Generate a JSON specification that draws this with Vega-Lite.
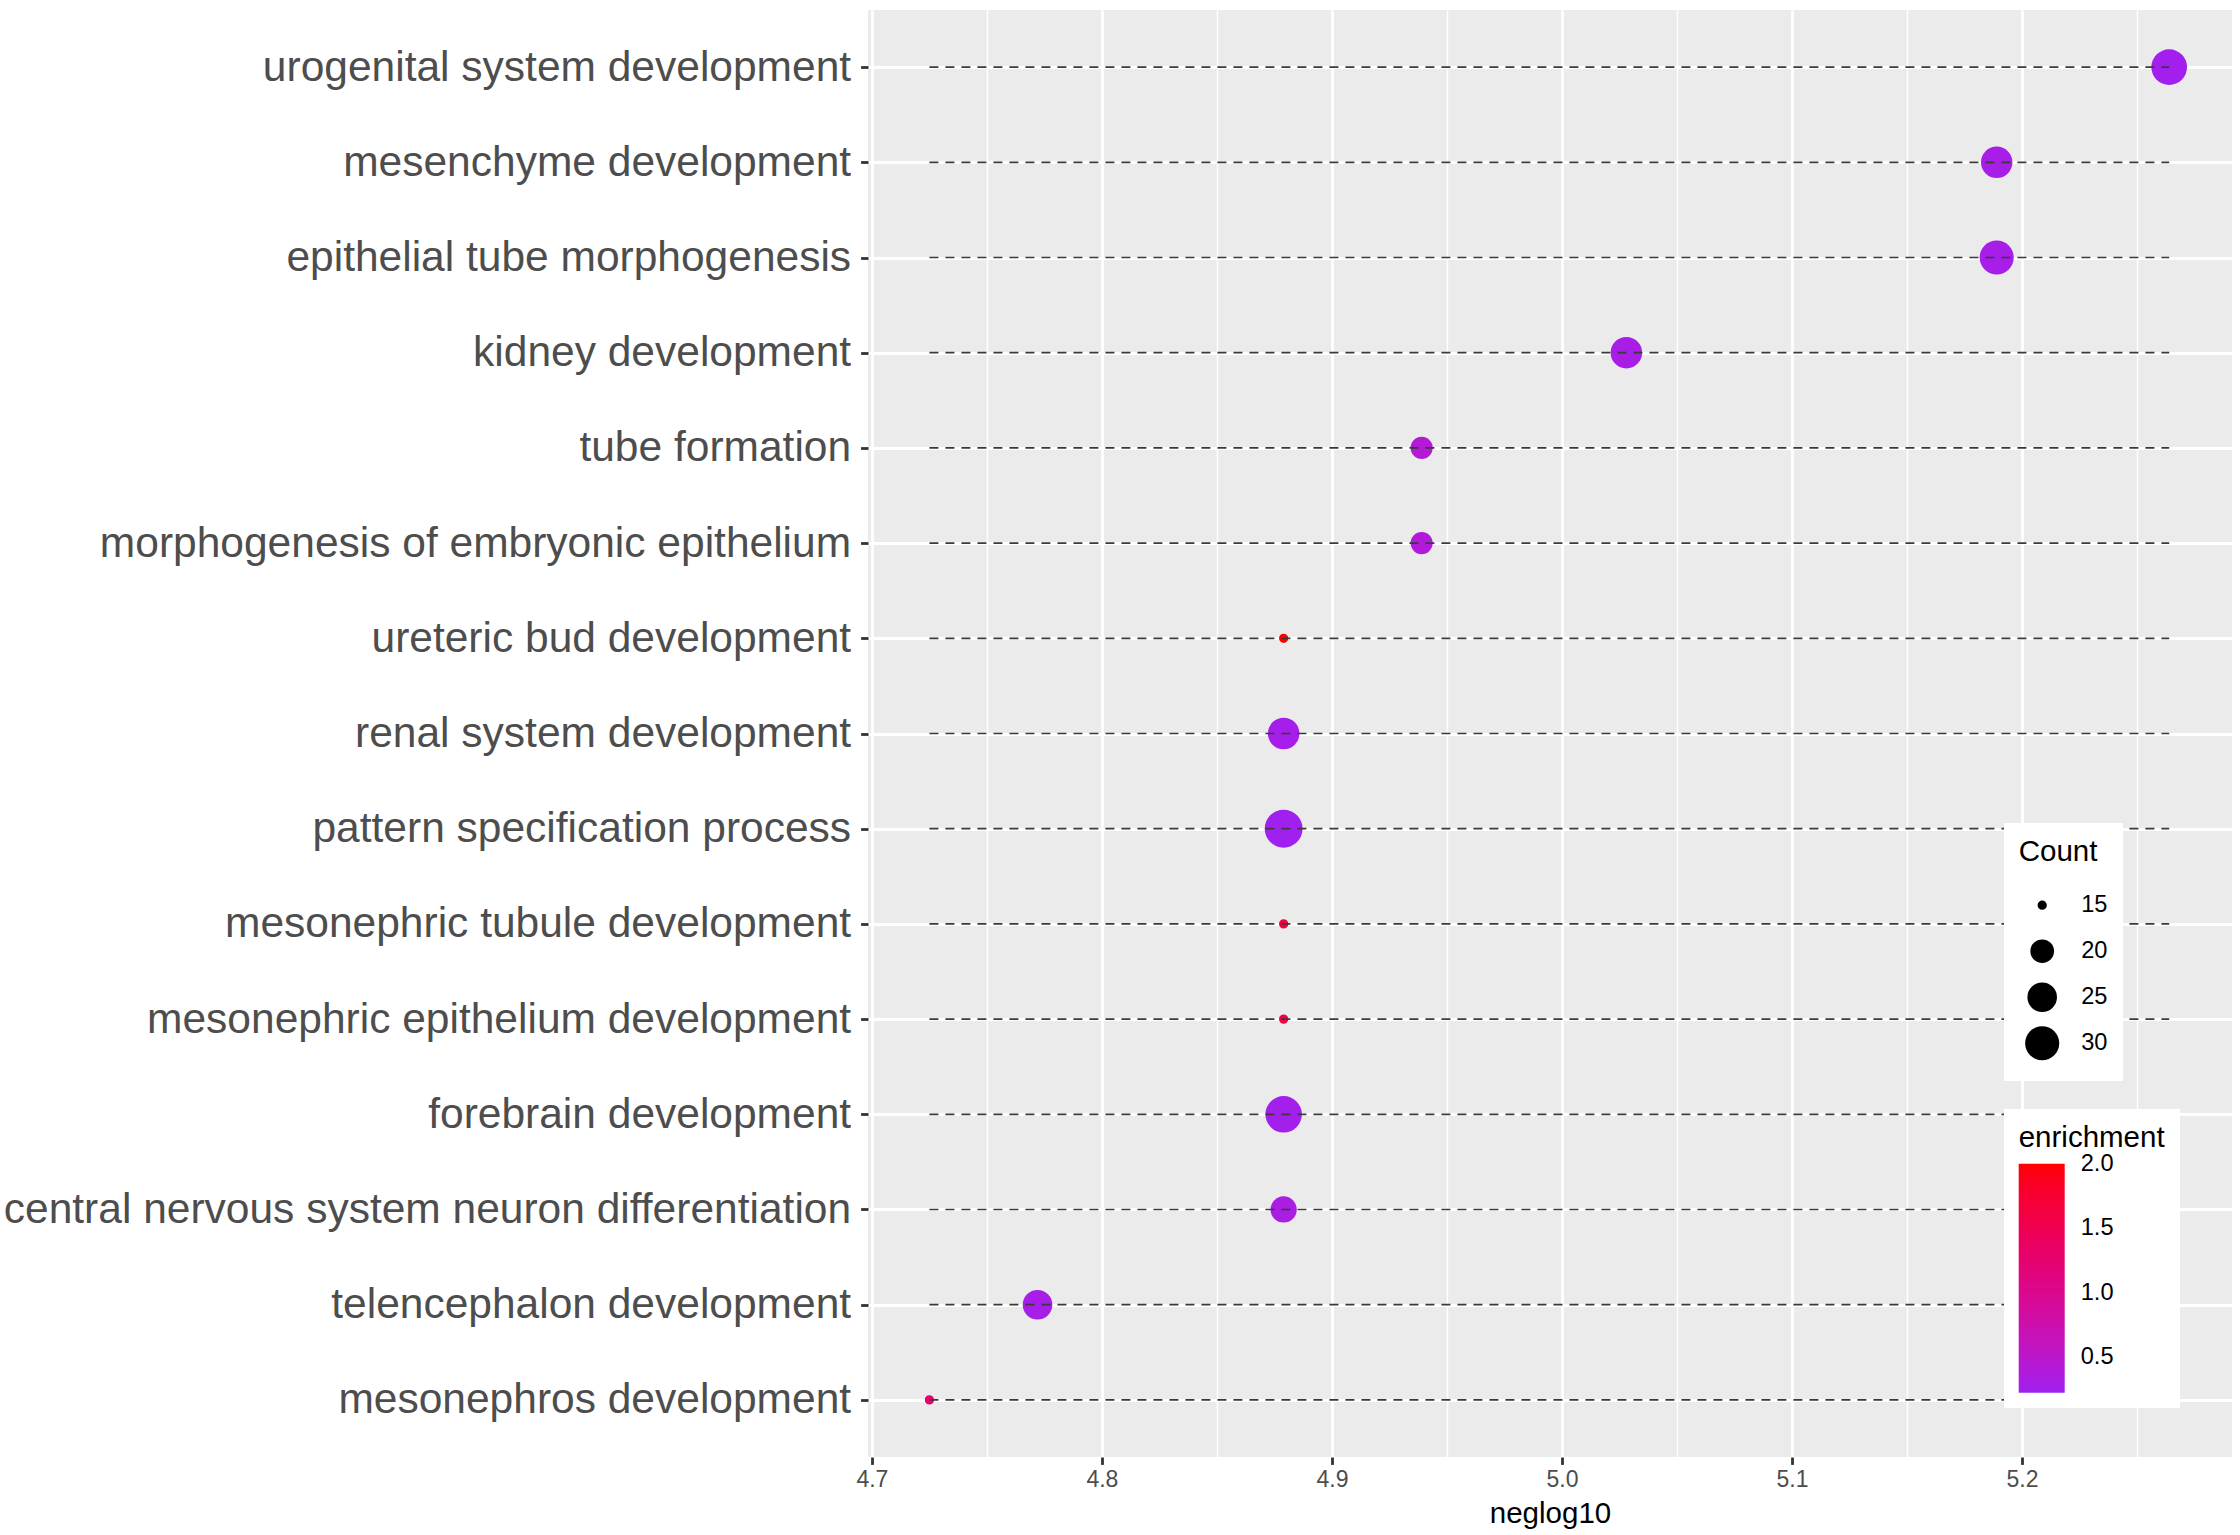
{
  "$schema": "https://vega.github.io/schema/vega-lite/v6.json",
  "width": 1364,
  "height": 1447,
  "autosize": {"type": "none"},
  "padding": {"left": 868, "top": 10, "right": 8, "bottom": 78},
  "background": "white",
  "config": {
    "font": "Liberation Sans",
    "view": {"fill": "#EBEBEB", "stroke": null}
  },
  "data": {
    "values": [
      {"term": "urogenital system development", "neglog10": 5.264, "Count": 32, "enrichment": 0.24},
      {"term": "mesenchyme development", "neglog10": 5.189, "Count": 27, "enrichment": 0.30},
      {"term": "epithelial tube morphogenesis", "neglog10": 5.189, "Count": 30, "enrichment": 0.28},
      {"term": "kidney development\u00a0", "neglog10": 5.028, "Count": 27, "enrichment": 0.30},
      {"term": "tube formation\u00a0", "neglog10": 4.939, "Count": 19, "enrichment": 0.42},
      {"term": "morphogenesis of embryonic epithelium", "neglog10": 4.939, "Count": 19, "enrichment": 0.40},
      {"term": "ureteric bud development", "neglog10": 4.879, "Count": 15, "enrichment": 2.0},
      {"term": "renal system development", "neglog10": 4.879, "Count": 27, "enrichment": 0.27},
      {"term": "pattern specification process", "neglog10": 4.879, "Count": 35, "enrichment": 0.22},
      {"term": "mesonephric tubule development", "neglog10": 4.879, "Count": 15, "enrichment": 1.65},
      {"term": "mesonephric epithelium development", "neglog10": 4.879, "Count": 15, "enrichment": 1.6},
      {"term": "forebrain development", "neglog10": 4.879, "Count": 33, "enrichment": 0.25},
      {"term": "central nervous system neuron differentiation", "neglog10": 4.879, "Count": 22, "enrichment": 0.32},
      {"term": "telencephalon development", "neglog10": 4.772, "Count": 25, "enrichment": 0.28},
      {"term": "mesonephros development", "neglog10": 4.725, "Count": 15, "enrichment": 1.3}
    ]
  },
  "encoding": {
    "y": {
      "field": "term",
      "type": "nominal",
      "sort": null,
      "scale": {"type": "point", "padding": 0.6},
      "axis": {
        "title": null,
        "domain": false,
        "labelFontSize": 42.5,
        "labelColor": "#4D4D4D",
        "labelLimit": 2000,
        "labelPadding": 10,
        "tickSize": 7.4,
        "tickWidth": 2.8,
        "tickColor": "#333333",
        "grid": true,
        "gridColor": "white",
        "gridWidth": 2.8
      }
    }
  },
  "layer": [
    {
      "mark": {"type": "circle", "opacity": 1, "strokeWidth": 0},
      "encoding": {
        "x": {
          "field": "neglog10",
          "type": "quantitative",
          "scale": {"domain": [4.6983, 5.2913], "zero": false, "nice": false},
          "axis": {
            "title": "neglog10",
            "titleFontSize": 29.5,
            "titleFontWeight": "normal",
            "titleColor": "black",
            "titlePadding": 8,
            "values": [4.7, 4.75, 4.8, 4.85, 4.9, 4.95, 5.0, 5.05, 5.1, 5.15, 5.2, 5.25],
            "labelExpr": "round(datum.value*100) % 10 == 0 ? format(datum.value, '.1f') : ''",
            "labelFontSize": 23,
            "labelColor": "#4D4D4D",
            "labelPadding": 4,
            "labelOverlap": false,
            "labelFlush": false,
            "domain": false,
            "tickSize": 7.4,
            "tickWidth": 2.8,
            "tickColor": "#333333",
            "tickOpacity": {"condition": {"test": "round(datum.value*100) % 10 == 0", "value": 1}, "value": 0},
            "grid": true,
            "gridColor": "white",
            "gridWidth": {"condition": {"test": "round(datum.value*100) % 10 == 0", "value": 2.8}, "value": 1.4}
          }
        },
        "size": {
          "field": "Count",
          "type": "quantitative",
          "scale": {
            "type": "linear",
            "domain": [15, 16, 17, 19, 20, 22, 25, 27, 30, 32, 33, 35],
            "range": [86.5, 246.5, 336.7, 488.4, 557.4, 688.0, 872.6, 990.4, 1162.1, 1273.8, 1328.6, 1437.9]
          },
          "legend": {
            "orient": "none",
            "legendX": 1136,
            "legendY": 813,
            "title": "Count",
            "titleFontSize": 29.5,
            "titleFontWeight": "normal",
            "titleColor": "black",
            "titlePadding": 15,
            "labelFontSize": 23.6,
            "labelColor": "black",
            "padding": 14.7,
            "fillColor": "white",
            "strokeColor": null,
            "values": [15, 20, 25, 30],
            "symbolType": "circle",
            "symbolFillColor": "black",
            "symbolStrokeWidth": 0,
            "symbolOpacity": 1,
            "symbolOffset": 6,
            "labelOffset": 21.5,
            "clipHeight": 46,
            "rowPadding": 0
          }
        },
        "color": {
          "field": "enrichment",
          "type": "quantitative",
          "scale": {"domain": [0.22, 2.005], "range": ["#A020F0", "#FF0000"], "interpolate": "lab"},
          "legend": {
            "orient": "none",
            "legendX": 1136,
            "legendY": 1099,
            "title": "enrichment",
            "titleFontSize": 29.5,
            "titleFontWeight": "normal",
            "titleColor": "black",
            "titlePadding": 10.5,
            "labelFontSize": 23.6,
            "labelColor": "black",
            "labelBaseline": "middle",
            "padding": 14.7,
            "fillColor": "white",
            "direction": "vertical",
            "gradientLength": 229,
            "gradientThickness": 46,
            "gradientStrokeWidth": 0,
            "values": [0.5, 1.0, 1.5, 2.0],
            "format": ".1f",
            "labelOffset": 16
          }
        }
      }
    },
    {
      "transform": [
        {"joinaggregate": [
          {"op": "min", "field": "neglog10", "as": "xmin"},
          {"op": "max", "field": "neglog10", "as": "xmax"}
        ]}
      ],
      "mark": {"type": "rule", "strokeDash": [9, 7], "strokeWidth": 1.7, "color": "#3a3a3a"},
      "encoding": {
        "x": {"field": "xmin", "type": "quantitative", "title": "neglog10"},
        "x2": {"field": "xmax"}
      }
    }
  ]
}
